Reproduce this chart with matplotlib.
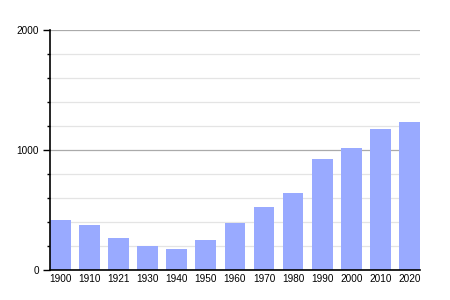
import matplotlib
matplotlib.use("Agg")
import matplotlib.pyplot as plt
from matplotlib.ticker import MultipleLocator

years = ["1900", "1910", "1921", "1930", "1940", "1950", "1960",
         "1970", "1980", "1990", "2000", "2010", "2020"]
population = [417, 375, 269, 200, 178, 250, 392, 525, 642, 925, 1017, 1175, 1233]

plt.rcParams['font.family'] = ['Liberation Sans', 'DejaVu Sans']

fig = plt.figure(figsize=(4.5, 3), dpi=100)
ax = fig.add_axes([0.111, 0.1, 0.822, 0.8])

x = range(len(years))
w = 0.71
ax.bar(x, population, width=w, color="#99aaff", zorder=2)

ax.set_xlim(-w / 2, len(years) - 1 + w / 2)
ax.set_ylim(0, 2000)
ax.set_xticks(list(x))
ax.set_xticklabels(years)
ax.set_yticks([0, 1000, 2000])
ax.yaxis.set_minor_locator(MultipleLocator(200))

ax.grid(axis="y", which="major", color="#aaaaaa", linewidth=0.9, zorder=0)
ax.grid(axis="y", which="minor", color="#e4e4e4", linewidth=0.9, zorder=0)

for s in ["top", "right"]:
    ax.spines[s].set_visible(False)
ax.spines["left"].set_linewidth(1.2)
ax.spines["bottom"].set_linewidth(1.2)

ax.tick_params(axis="x", length=0, labelsize=7.2, pad=3)
ax.tick_params(axis="y", which="major", length=5, width=1, labelsize=7.2, pad=3)
ax.tick_params(axis="y", which="minor", length=2.5, width=1)

fig.savefig("out.png", dpi=100)
